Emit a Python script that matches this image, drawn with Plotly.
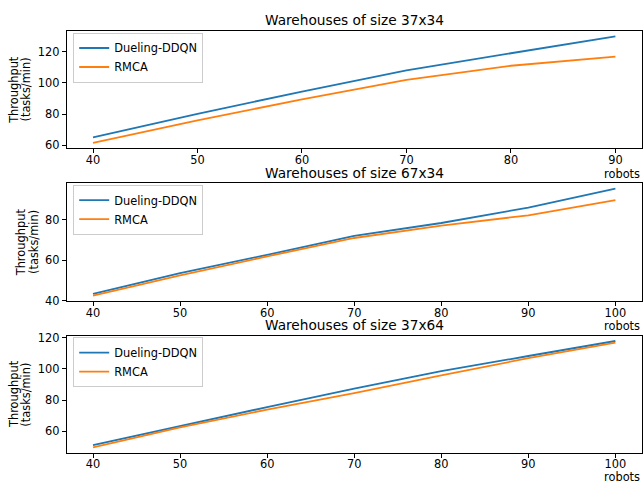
import plotly.graph_objects as go

# ---------------- data ----------------
series_names = ["Dueling-DDQN", "RMCA"]
titles = ["Warehouses of size 37x34", "Warehouses of size 67x34", "Warehouses of size 37x64"]

robots_37x34 = [40, 50, 60, 70, 80, 90]
ddqn_37x34 = [65.2, 80.2, 94.5, 108.0, 119.0, 129.8]
rmca_37x34 = [61.7, 76.0, 89.5, 102.0, 111.0, 116.8]

robots_67x34 = [40, 50, 60, 70, 80, 90, 100]
ddqn_67x34 = [43.4, 53.6, 62.7, 72.0, 78.4, 86.0, 95.4]
rmca_67x34 = [42.6, 52.6, 61.9, 71.0, 77.1, 82.2, 89.7]

robots_37x64 = [40, 50, 60, 70, 80, 90, 100]
ddqn_37x64 = [51.1, 63.5, 75.5, 87.3, 98.5, 108.2, 117.8]
rmca_37x64 = [49.7, 62.5, 73.9, 84.5, 95.8, 106.8, 116.7]

yticks_37x34 = [60, 80, 100, 120]
yticks_67x34 = [40, 60, 80]
yticks_37x64 = [60, 80, 100, 120]
xticks_37x34 = [40, 50, 60, 70, 80, 90]
xticks_wide = [40, 50, 60, 70, 80, 90, 100]

ylabel_lines = ["Throughput", "(tasks/min)"]
xlabel_text = "robots"

# ---------------- layout geometry (pixels) ----------------
W, H = 643, 489
FONT = "DejaVu Sans"
FS = 11.4
FS_TITLE = 13.7
BLUE, ORANGE = "#1f77b4", "#ff7f0e"
left_px, right_px = 67.0, 642.5
tops = [26.7, 182.7, 339.0]
bottoms = [146.7, 303.3, 459.0]
ylabel_x = [(13.3, 26.0), (21.3, 34.0), (13.8, 26.5)]
title_y = [15.0, 172.0, 328.0]
robots_y = [173.0, 329.0, 484.0]


def py(p):
    return (H - p) / H


def padded(vals):
    lo, hi = min(vals), max(vals)
    m = 0.05 * (hi - lo)
    return [lo - m, hi + m]


panels = [
    (robots_37x34, ddqn_37x34, rmca_37x34, yticks_37x34, xticks_37x34),
    (robots_67x34, ddqn_67x34, rmca_67x34, yticks_67x34, xticks_wide),
    (robots_37x64, ddqn_37x64, rmca_37x64, yticks_37x64, xticks_wide),
]

fig = go.Figure()
annotations = []
layout = {}
for i, (xs, d, r, yt, xt) in enumerate(panels):
    n = "" if i == 0 else str(i + 1)
    leg = "legend" + n
    fig.add_trace(go.Scatter(x=xs, y=d, mode="lines", name=series_names[0],
                             line=dict(color=BLUE, width=1.8),
                             xaxis="x" + n, yaxis="y" + n, legend=leg))
    fig.add_trace(go.Scatter(x=xs, y=r, mode="lines", name=series_names[1],
                             line=dict(color=ORANGE, width=1.8),
                             xaxis="x" + n, yaxis="y" + n, legend=leg))
    common = dict(showline=True, linecolor="black", linewidth=1, mirror=True,
                  showgrid=False, zeroline=False, ticks="outside", ticklen=4,
                  tickwidth=1, tickcolor="black",
                  tickfont=dict(family=FONT, size=FS, color="black"))
    layout["xaxis" + n] = dict(domain=[left_px / W, right_px / W], anchor="y" + n,
                               range=padded(xs), tickmode="array", tickvals=xt,
                               ticklabelstandoff=-3, **common)
    layout["yaxis" + n] = dict(domain=[py(bottoms[i]), py(tops[i])], anchor="x" + n,
                               range=padded(d + r), tickmode="array", tickvals=yt,
                               **common)
    layout[leg] = dict(x=73.3 / W, y=py(tops[i] + 1.5), xanchor="left", yanchor="top",
                       bgcolor="rgba(255,255,255,0.8)", bordercolor="#cccccc",
                       borderwidth=1, font=dict(family=FONT, size=FS, color="black"),
                       tracegroupgap=0)
    annotations.append(dict(text=titles[i], x=(left_px + right_px) / 2 / W,
                            y=py(title_y[i]), xref="paper", yref="paper",
                            xanchor="center", yanchor="middle", showarrow=False,
                            font=dict(family=FONT, size=FS_TITLE, color="black")))
    for k, line in enumerate(ylabel_lines):
        annotations.append(dict(text=line, x=ylabel_x[i][k] / W,
                                y=py((tops[i] + bottoms[i]) / 2), xref="paper",
                                yref="paper", xanchor="center", yanchor="middle",
                                textangle=-90, showarrow=False,
                                font=dict(family=FONT, size=FS, color="black")))
    annotations.append(dict(text=xlabel_text, x=643.5 / W, y=py(robots_y[i]),
                            xref="paper", yref="paper", xanchor="right",
                            yanchor="middle", showarrow=False,
                            font=dict(family=FONT, size=FS, color="black")))

fig.update_layout(width=W, height=H, margin=dict(l=0, r=0, t=0, b=0),
                  paper_bgcolor="white", plot_bgcolor="white",
                  showlegend=True, annotations=annotations,
                  font=dict(family=FONT, size=FS, color="black"), **layout)

fig.write_html("out.html")
